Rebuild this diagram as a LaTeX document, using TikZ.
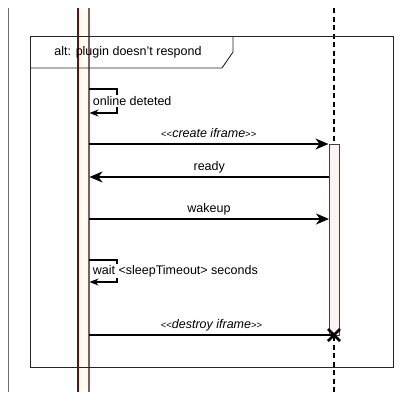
\documentclass[tikz,border=0pt]{standalone}
\usepackage{fontspec}
\setmainfont{Liberation Sans}
\usetikzlibrary{arrows.meta,calc}
\definecolor{barcream}{HTML}{FFFCF0}
\definecolor{barpink}{HTML}{FFF2F2}
\definecolor{barleft}{HTML}{5A1414}
\definecolor{barright}{HTML}{7E5E5E}
\definecolor{edgegrey}{HTML}{6F6F6F}
\tikzset{
  msg/.style={line width=1.6pt, -{Stealth[length=13pt,width=11pt,inset=4pt]}},
  selfmsg/.style={line width=1.4pt, -{Stealth[length=9pt,width=7pt,inset=3pt]}},
  lbl/.style={font=\fontsize{12.5}{14}\selectfont, anchor=base, inner sep=0pt},
  selflbl/.style={font=\fontsize{12.5}{14}\selectfont, anchor=west, fill=white, inner sep=1.2pt},
  framebox/.style={draw=black!85, line width=0.9pt},
  lifedash/.style={line width=2pt, dash pattern=on 5pt off 3.5pt},
}
\newcommand{\stereo}[1]{{\fontsize{9.5}{10}\selectfont<\kern0pt<}\textit{#1}{\fontsize{9.5}{10}\selectfont>\kern0pt>}}
\begin{document}
\begin{tikzpicture}[x=1pt,y=-1pt]
\useasboundingbox (0,0) rectangle (409,392);

% outer left border line
\draw[edgegrey, line width=1.1pt] (8.5,8) -- (8.5,392);

% lifeline of the page (cream activation bar)
\fill[barcream] (78,8) rectangle (89,392);
\draw[barleft, line width=1.1pt] (78,8) -- (78,392);
\draw[barright, line width=1.1pt] (89,8) -- (89,392);

% lifeline of the iframe
\coordinate (rtop) at (334,8);
\coordinate (rbot) at (334,392);
\node[draw=black!75, fill=barpink, line width=1pt, minimum width=10pt,
      minimum height=191pt, inner sep=0pt, anchor=north] (act) at (334,144) {};
\draw[lifedash] (rtop) -- (act.north);
\draw[lifedash] (act.south) -- (rbot);

% alt frame
\draw[framebox] (30,36) rectangle (393,367);
\draw[framebox] (30,68) -- (222,68) -- (233,52) -- (233,36);
\node[font=\fontsize{12.5}{14}\selectfont] (altlbl) at (128,52) {alt: plugin doesn't respond};

% self message: online detected
\coordinate (s1a) at (89,89);
\coordinate (s1b) at (117,89);
\coordinate (s1c) at (117,113);
\coordinate (s1d) at (89.5,113);
\draw[selfmsg] (s1a) -- (s1b) -- (s1c) -- (s1d);
\node[selflbl] (online) at (91.5,101) {online deteted};

% create iframe
\coordinate (m1a) at (89,144);
\draw[msg] (m1a) -- node[lbl, yshift=7pt] (create) {\stereo{create iframe}} (act.north west);

% ready
\coordinate (m2a) at (329,177);
\coordinate (m2b) at (89.5,177);
\draw[msg] (m2a) -- node[lbl, yshift=7pt] (ready) {ready} (m2b);

% wakeup
\coordinate (m3a) at (89,219);
\coordinate (m3b) at (329,219);
\draw[msg] (m3a) -- node[lbl, yshift=7pt] (wakeup) {wakeup} (m3b);

% self message: wait
\coordinate (s2a) at (89,260);
\coordinate (s2b) at (117,260);
\coordinate (s2c) at (117,282);
\coordinate (s2d) at (89.5,282);
\draw[selfmsg] (s2a) -- (s2b) -- (s2c) -- (s2d);
\node[selflbl] (wait) at (91.5,271) {wait <sleepTimeout> seconds};

% destroy iframe
\coordinate (m4a) at (89,335);
\coordinate (m4b) at (334,335);
\draw[line width=1.6pt] (m4a) -- node[lbl, yshift=7pt] (destroy) {\stereo{destroy iframe}} (m4b);
\draw[line width=2.6pt] ($(m4b)+(-6,-6)$) -- ($(m4b)+(6,6)$);
\draw[line width=2.6pt] ($(m4b)+(-6,6)$) -- ($(m4b)+(6,-6)$);
\end{tikzpicture}
\end{document}
